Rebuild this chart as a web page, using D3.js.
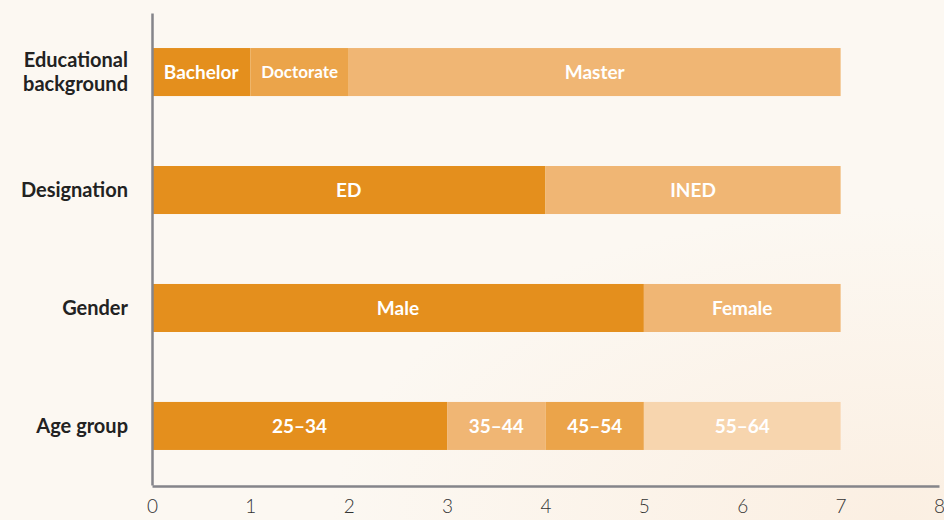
<!DOCTYPE html>
<html>
<head>
<meta charset="utf-8">
<script src="https://cdn.jsdelivr.net/npm/d3@7"></script>
<style>
  html, body { margin: 0; padding: 0; background: #fcf8f2; }
  svg { display: block; font-family: Lato, "Open Sans", sans-serif; }
</style>
</head>
<body>
<svg id="chart"></svg>
<script>
// rows, top to bottom
const categories = ["Educational background", "Designation", "Gender", "Age group"];

// segments of each row, left to right
const eduLabels = ["Bachelor", "Doctorate", "Master"];
const eduValues = [1, 1, 5];
const designationLabels = ["ED", "INED"];
const designationValues = [4, 3];
const genderLabels = ["Male", "Female"];
const genderValues = [5, 2];
const ageLabels = ["25–34", "35–44", "45–54", "55–64"];
const ageValues = [3, 1, 1, 2];

const xTicks = [0, 1, 2, 3, 4, 5, 6, 7, 8];

const rows = [
    { cat: categories[0], labels: eduLabels, values: eduValues, colors: ["#e48f1d", "#eba44a", "#f0b674"], sizes: [19, 17, 19] },
    { cat: categories[1], labels: designationLabels, values: designationValues, colors: ["#e48f1d", "#f0b674"] },
    { cat: categories[2], labels: genderLabels, values: genderValues, colors: ["#e48f1d", "#f0b674"] },
    { cat: categories[3], labels: ageLabels, values: ageValues, colors: ["#e48f1d", "#f0b674", "#eba44a", "#f7d5ae"] },
];

const width = 944, height = 520;
const margin = { top: 13, right: 5, bottom: 35, left: 152 };
const font = "Lato, 'Open Sans', sans-serif";

const svg = d3.select("#chart").attr("width", width).attr("height", height);

// soft background
const defs = svg.append("defs");
const grad = defs.append("radialGradient").attr("id", "bg").attr("cx", "0.95").attr("cy", "1").attr("r", "0.6");
grad.append("stop").attr("offset", "0%").attr("stop-color", "#fbefe2");
grad.append("stop").attr("offset", "100%").attr("stop-color", "#fcf8f2");
svg.append("rect").attr("width", width).attr("height", height).attr("fill", "url(#bg)");

const x = d3.scaleLinear().domain([0, 8]).range([margin.left, 939]);
const y = d3.scaleBand().domain(categories)
    .range([margin.top, height - margin.bottom])
    .paddingInner(0.593).paddingOuter(0.297);

// bars
const segs = [];
rows.forEach(r => {
    let acc = 0;
    r.values.forEach((v, i) => {
        segs.push({ cat: r.cat, x0: acc, x1: acc + v, label: r.labels[i], color: r.colors[i], size: r.sizes ? r.sizes[i] : 19 });
        acc += v;
    });
});

const g = svg.append("g");
g.selectAll("rect.seg")
    .data(segs)
    .join("rect")
    .attr("class", "seg")
    .attr("x", d => x(d.x0))
    .attr("y", d => y(d.cat))
    .attr("width", d => x(d.x1) - x(d.x0))
    .attr("height", y.bandwidth())
    .attr("fill", d => d.color);

g.selectAll("text.seg")
    .data(segs)
    .join("text")
    .attr("class", "seg")
    .attr("x", d => (x(d.x0) + x(d.x1)) / 2)
    .attr("y", d => y(d.cat) + y.bandwidth() / 2)
    .attr("dy", "0.35em")
    .attr("text-anchor", "middle")
    .attr("fill", "#ffffff")
    .style("font-weight", 700)
    .style("font-size", d => d.size + "px")
    .text(d => d.label);

// axes
const xAxis = svg.append("g")
    .attr("transform", `translate(0, ${height - margin.bottom + 1})`)
    .call(d3.axisBottom(x).tickValues(xTicks).tickSize(0).tickPadding(14).tickFormat(d3.format("d")))
    .attr("font-family", font);
xAxis.select(".domain").attr("stroke", "#85858a").attr("stroke-width", 2.5);
xAxis.selectAll("text").attr("fill", "#333").style("font-size", "19px").style("font-weight", 300);

const yAxis = svg.append("g")
    .attr("transform", `translate(${margin.left}, 0)`)
    .call(d3.axisLeft(y).tickSize(0).tickPadding(24).tickFormat(() => ""))
    .attr("font-family", font);
yAxis.select(".domain").attr("stroke", "#85858a").attr("stroke-width", 2.5);

// category labels, wrapped for the long one
yAxis.selectAll(".tick text").each(function(d) {
    const t = d3.select(this);
    const words = d === "Educational background" ? ["Educational", "background"] : [d];
    t.text(null)
        .attr("fill", "#222")
        .style("font-size", "20px")
        .style("font-weight", 700)
        .attr("dy", null);
    words.forEach((w, i) => {
        t.append("tspan")
            .attr("x", -24)
            .attr("dy", i === 0 ? (0.35 - (words.length - 1) * 0.6) + "em" : "1.2em")
            .text(w);
    });
});
</script>
</body>
</html>
